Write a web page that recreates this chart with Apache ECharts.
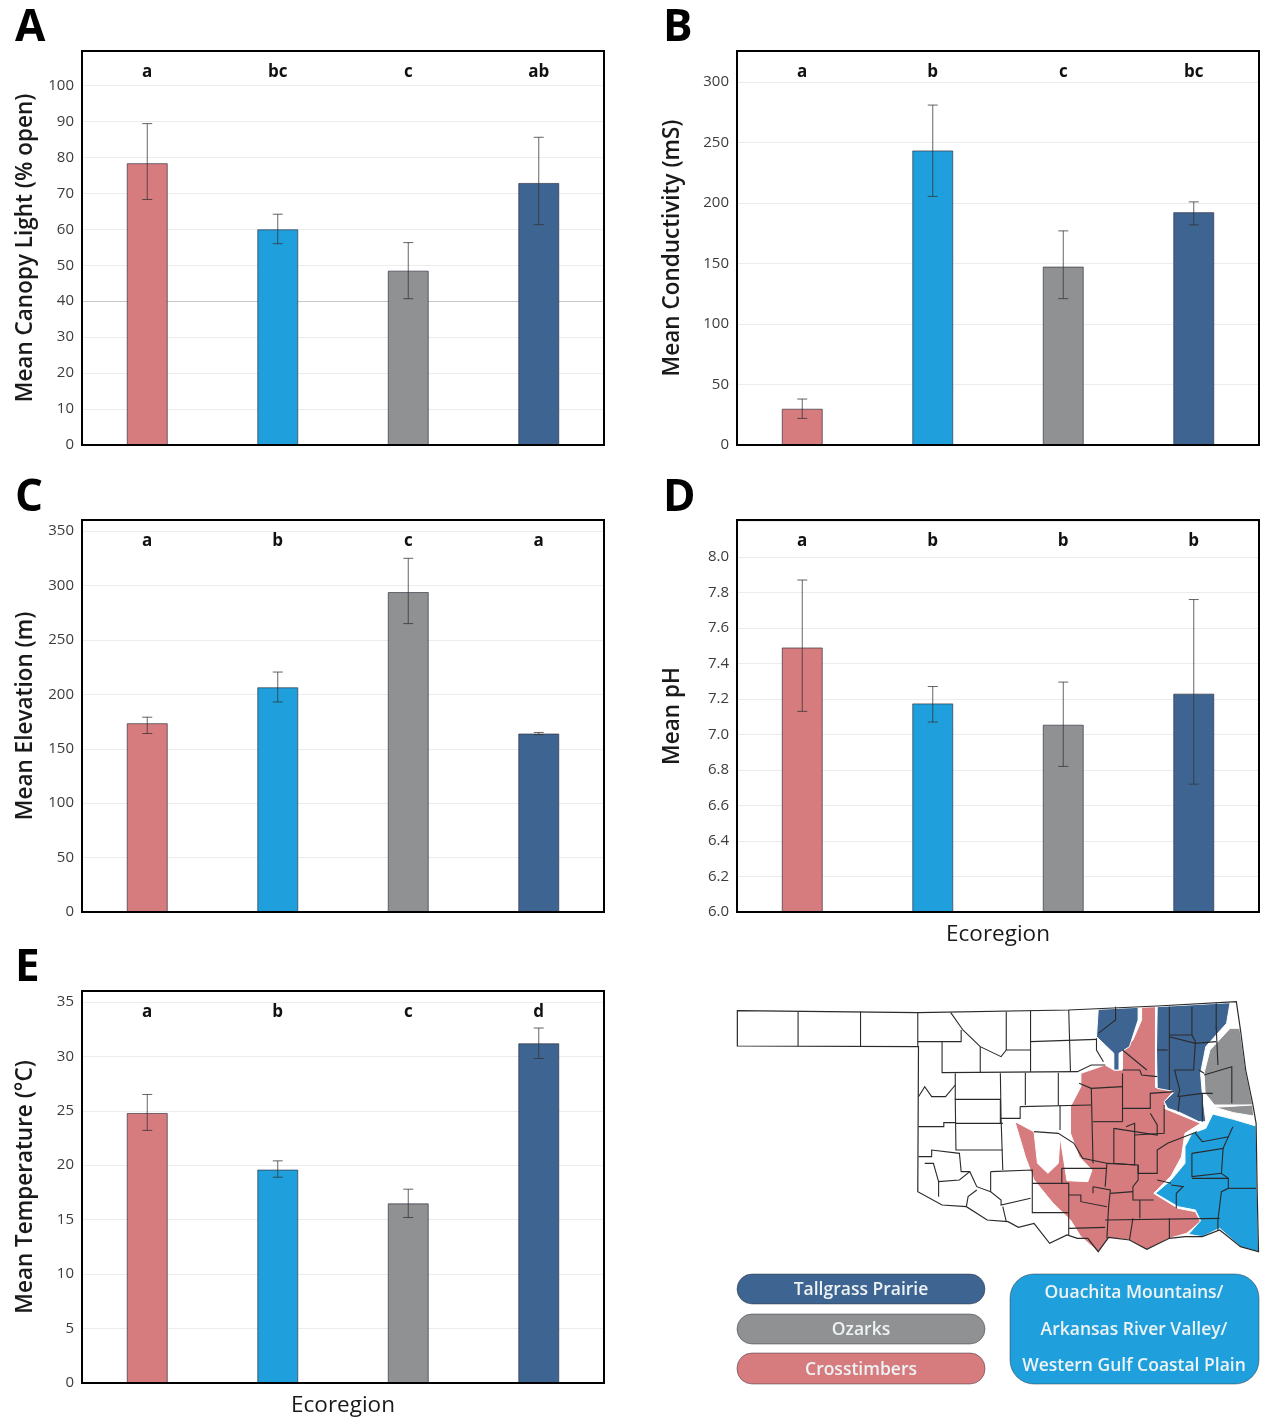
<!DOCTYPE html>
<html><head><meta charset="utf-8">
<style>html,body{margin:0;padding:0;background:#fff}#c{width:1262px;height:1421px}</style>
<script src="https://cdn.jsdelivr.net/npm/echarts@6/dist/echarts.min.js"></script>
</head><body><div id="c"></div>
<script>
const ecoregions = ['Crosstimbers','Ouachita Mountains/Arkansas River Valley/Western Gulf Coastal Plain','Ozarks','Tallgrass Prairie'];
const barColors = ['#d67b7e','#1fa0dc','#909192','#3e6592'];

const canopyMeans = [78.4, 60, 48.5, 72.9];
const canopyLow = [68.3, 56, 40.7, 61.3];
const canopyHigh = [89.4, 64.2, 56.3, 85.6];
const canopySig = ['a','bc','c','ab'];

const condMeans = [30, 243.5, 147.5, 192.5];
const condLow = [22, 205.5, 121, 182];
const condHigh = [38, 281, 177, 201];
const condSig = ['a','b','c','bc'];

const elevMeans = [173.5, 206.5, 294, 164];
const elevLow = [164, 193, 265, 163];
const elevHigh = [179, 220.5, 325, 165];
const elevSig = ['a','b','c','a'];

const phMeans = [7.49, 7.175, 7.055, 7.23];
const phLow = [7.13, 7.07, 6.82, 6.72];
const phHigh = [7.87, 7.27, 7.295, 7.76];
const phSig = ['a','b','b','b'];

const tempMeans = [24.8, 19.6, 16.5, 31.2];
const tempLow = [23.2, 18.9, 15.2, 29.8];
const tempHigh = [26.5, 20.4, 17.8, 32.6];
const tempSig = ['a','b','c','d'];

/* Map geometry, in the units of the hidden map axes */
const stateOutline = [[50,62],[570,68],[1005,60],[1260,48],[1488,35],[1500,120],[1515,240],[1535,340],[1545,400],[1548,600],[1552,785],[1500,770],[1470,745],[1440,720],[1390,740],[1340,740],[1295,745],[1230,778],[1180,750],[1120,742],[1090,785],[1060,745],[1030,745],[1000,735],[950,760],[905,700],[860,712],[830,695],[770,690],[710,650],[640,645],[570,605],[572,170],[50,168]];
const tallgrassNW = [[1090,58],[1205,52],[1205,90],[1180,170],[1150,190],[1150,240],[1135,240],[1135,190],[1085,140]];
const tallgrassNE = [[1260,50],[1470,38],[1460,100],[1400,170],[1385,250],[1390,310],[1400,395],[1380,395],[1320,365],[1290,355],[1280,335],[1310,305],[1260,295],[1258,180]];
const ozarksMain = [[1470,115],[1498,115],[1515,240],[1535,345],[1425,345],[1398,310],[1395,250],[1412,180]];
const ozarksStrip = [[1425,352],[1535,345],[1538,378],[1480,368]];
const ouachita = [[1420,372],[1480,388],[1545,408],[1548,600],[1552,785],[1500,770],[1440,715],[1390,740],[1350,733],[1385,692],[1370,660],[1320,650],[1255,610],[1300,570],[1340,520],[1340,470],[1360,430],[1400,415]];
const crosstimbers = [[1215,52],[1255,50],[1255,292],[1310,300],[1285,330],[1280,355],[1320,372],[1385,400],[1340,430],[1330,500],[1300,558],[1250,610],[1320,655],[1370,665],[1385,695],[1345,730],[1295,745],[1230,780],[1180,750],[1120,745],[1090,785],[1040,740],[1010,690],[960,640],[905,570],[880,500],[850,395],[905,425],[915,520],[945,550],[975,520],[980,440],[1000,572],[1060,575],[1072,540],[1035,500],[1010,430],[1010,350],[1040,290],[1040,250],[1110,225],[1135,240],[1160,240],[1160,180],[1190,150],[1215,90]];
const mapRegions = [
  {points: crosstimbers, color: '#d67b7e'},
  {points: tallgrassNW, color: '#3e6592'},
  {points: tallgrassNE, color: '#3e6592'},
  {points: ozarksMain, color: '#909192'},
  {points: ozarksStrip, color: '#909192'},
  {points: ouachita, color: '#1fa0dc'}
];
const countyLines = [
[[225,65],[225,168]],[[405,65],[405,170]],[[570,68],[570,170]],
[[665,68],[700,120],[750,170],[810,200],[825,180]],[[570,155],[695,155],[695,120]],
[[825,65],[825,180],[895,180]],[[895,62],[895,245]],[[1005,60],[1010,245]],[[895,155],[1085,148]],
[[640,155],[640,248],[1030,245],[1070,225],[1110,225]],[[750,170],[750,248]],
[[678,250],[678,328],[808,328],[808,400]],[[808,250],[810,385]],[[880,248],[880,345]],[[975,248],[975,345]],[[865,350],[1070,345]],[[865,350],[865,385],[810,385],[815,540]],
[[572,320],[590,290],[610,320],[650,320],[678,285]],
[[678,328],[680,480],[815,480]],[[680,400],[815,400]],[[572,410],[645,410],[645,398],[680,398]],
[[572,500],[610,500],[610,480],[690,490],[695,545],[720,545]],[[590,520],[615,520],[630,575],[690,570],[720,545],[740,590],[780,605]],[[630,575],[630,620]],
[[780,545],[900,540],[900,670]],[[780,545],[780,605],[810,630],[810,645],[895,625]],[[710,650],[715,620],[740,600]],[[815,650],[825,695]],
[[900,580],[1005,580],[1005,735]],[[900,668],[1005,668]],[[1005,715],[1110,712]],[[1005,615],[1040,615],[1040,635],[1115,650]],[[1075,590],[1125,600],[1120,650],[1115,745]],[[985,535],[1115,535]],[[985,535],[985,580]],[[1075,590],[1075,610]],
[[905,425],[975,430],[1020,460],[1045,505],[1115,520]],[[980,420],[980,345]],
[[1035,280],[1070,295],[1160,290]],[[1070,295],[1075,520]],[[1160,250],[1160,395]],[[1075,395],[1160,395]],[[1160,240],[1210,240],[1215,255],[1260,260]],[[1160,180],[1230,240]],[[1085,145],[1085,180],[1105,215]],
[[1160,355],[1240,355],[1240,310],[1310,305]],[[1240,370],[1260,405],[1260,435],[1135,415]],
[[1135,415],[1135,520],[1195,525],[1195,400],[1170,410]],[[1195,435],[1280,430],[1280,345]],[[1205,525],[1205,550],[1260,550],[1260,480],[1290,460],[1375,425]],[[1115,520],[1205,525],[1205,570],[1190,590],[1190,630],[1250,630]],[[1115,520],[1110,590]],[[1125,610],[1190,605]],[[1210,630],[1210,685]],[[1110,690],[1440,685]],[[1190,685],[1180,750]],[[1295,685],[1295,745]],
[[1370,430],[1390,455],[1465,440],[1478,410]],[[1360,490],[1450,475],[1445,550],[1360,560],[1360,490]],[[1465,440],[1450,475]],[[1300,585],[1335,590],[1315,610],[1315,655]],[[1445,550],[1465,565],[1465,595],[1445,605],[1435,690],[1435,720]],[[1465,595],[1545,595]],[[1360,565],[1465,565]],[[1260,570],[1300,580]],
[[1295,50],[1295,300]],[[1260,180],[1290,180]],[[1295,135],[1360,135],[1360,50]],[[1430,40],[1430,115]],[[1295,140],[1370,160],[1430,155]],[[1360,135],[1370,155],[1365,240],[1310,240],[1325,300],[1320,320],[1390,310],[1420,310]],[[1395,255],[1475,230],[1475,340]],[[1430,110],[1435,225]],[[1380,240],[1395,250]],[[1325,320],[1320,365]],[[1390,310],[1390,395]],
[[1140,50],[1140,90],[1090,130]]
];

const FONT = '"Open Sans"';
const panels = [
 {left:82,top:51,height:394,means:canopyMeans,low:canopyLow,high:canopyHigh,sig:canopySig,name:'Mean Canopy Light (% open)',min:0,max:109.6,interval:10,gap:45,digits:0,ref:40},
 {left:737,top:51,height:394,means:condMeans,low:condLow,high:condHigh,sig:condSig,name:'Mean Conductivity (mS)',min:0,max:325.7,interval:50,gap:53,digits:0},
 {left:82,top:520,height:392,means:elevMeans,low:elevLow,high:elevHigh,sig:elevSig,name:'Mean Elevation (m)',min:0,max:360.2,interval:50,gap:45,digits:0},
 {left:737,top:520,height:392,means:phMeans,low:phLow,high:phHigh,sig:phSig,name:'Mean pH',min:6,max:8.208,interval:0.2,gap:53,digits:1,xName:'Ecoregion',hideAbove:8.1},
 {left:82,top:991,height:392,means:tempMeans,low:tempLow,high:tempHigh,sig:tempSig,name:'Mean Temperature (\u00b0C)',min:0,max:36,interval:5,gap:45,digits:0,xName:'Ecoregion'}
];

const grid=[], xAxis=[], yAxis=[], series=[];
panels.forEach((p,i)=>{
  grid.push({left:p.left,top:p.top,width:522,height:p.height,show:false,containLabel:false,outerBoundsMode:'none',z:5});
  xAxis.push({type:'category',gridIndex:i,data:ecoregions,position:'bottom',
    axisLine:{show:false},axisTick:{show:false},axisLabel:{show:false},
    name:p.xName||'',nameLocation:'middle',nameGap:11,nameTextStyle:{fontFamily:FONT,fontSize:22.5,color:'#1a1a1a'}});
  xAxis.push({type:'category',gridIndex:i,data:p.sig.map((s,k)=>({value:k+':'+s})),position:'top',
    axisLine:{show:false},axisTick:{show:false},
    axisLabel:{inside:true,interval:0,margin:13,fontFamily:FONT,fontWeight:700,fontSize:17,color:'#111',formatter:v=>v.split(':')[1]}});
  yAxis.push({type:'value',gridIndex:i,min:p.min,max:p.max,interval:p.interval,
    name:p.name,nameLocation:'middle',nameGap:p.gap,nameTextStyle:{fontFamily:FONT,fontWeight:600,fontSize:22.5,color:'#1a1a1a'},
    axisLine:{show:false},axisTick:{show:false},
    axisLabel:{fontFamily:FONT,fontSize:15,color:'#3c3c3c',margin:8,padding:[2,0,0,0],showMaxLabel:false,hideOverlap:false,
      formatter:v=>(p.hideAbove!==undefined&&v>p.hideAbove)?'':(+v).toFixed(p.digits)},
    splitLine:{show:true,lineStyle:{color:'#ececec',width:1}}});
  const xi=i*2;
  series.push({type:'bar',xAxisIndex:xi,yAxisIndex:i,barWidth:41,z:3,
    data:p.means.map((v,k)=>({value:v,itemStyle:{color:barColors[k]}})),
    itemStyle:{borderColor:'rgba(45,45,60,0.65)',borderWidth:1},
    markLine:p.ref!==undefined?{silent:true,symbol:'none',label:{show:false},z:2,
       lineStyle:{color:'#c6c6c6',width:1,type:'solid'},data:[{yAxis:p.ref}]}:undefined});
  series.push({type:'custom',xAxisIndex:xi,yAxisIndex:i,z:4,
    data:p.low.map((l,k)=>[k,l,p.high[k]]),encode:{x:0,y:[1,2]},
    renderItem:(params,api)=>{
      const a=api.coord([api.value(0),api.value(1)]), b=api.coord([api.value(0),api.value(2)]);
      const st={stroke:'rgba(50,50,50,0.75)',lineWidth:1,fill:null};
      const hw=5;
      return {type:'group',children:[
        {type:'line',shape:{x1:a[0],y1:a[1],x2:b[0],y2:b[1]},style:st},
        {type:'line',shape:{x1:a[0]-hw,y1:a[1],x2:a[0]+hw,y2:a[1]},style:st},
        {type:'line',shape:{x1:b[0]-hw,y1:b[1],x2:b[0]+hw,y2:b[1]},style:st}]};
    }});
});

/* Hidden map coordinate system */
const mi=panels.length;
grid.push({left:720,top:990,width:542,height:270,show:false,outerBoundsMode:'none'});
xAxis.push({type:'value',gridIndex:mi,min:0,max:1562,show:false});
yAxis.push({type:'value',gridIndex:mi,min:0,max:810,inverse:true,show:false});
const mx=mi*2;
const polyItem=(params,api,pts,style)=>({type:'polygon',shape:{points:pts.map(p=>api.coord(p))},style});
series.push({type:'custom',xAxisIndex:mx,yAxisIndex:mi,z:1,clip:false,silent:true,
  data:mapRegions.map((r,i)=>[i]),
  renderItem:(params,api)=>{const r=mapRegions[params.dataIndex];
    return polyItem(params,api,r.points,{fill:r.color,stroke:'#fff',lineWidth:1});}});
series.push({type:'custom',xAxisIndex:mx,yAxisIndex:mi,z:2,clip:false,silent:true,
  data:countyLines.map((r,i)=>[i]),
  renderItem:(params,api)=>({type:'polyline',shape:{points:countyLines[params.dataIndex].map(p=>api.coord(p))},
    style:{stroke:'#2a2a2a',lineWidth:1.1,fill:null}})});
series.push({type:'custom',xAxisIndex:mx,yAxisIndex:mi,z:3,clip:false,silent:true,
  data:[[0]],
  renderItem:(params,api)=>polyItem(params,api,stateOutline,{fill:null,stroke:'#2a2a2a',lineWidth:1.2})});

const frames = panels.map(p=>({type:'rect',z:10,shape:{x:p.left,y:p.top,width:522,height:p.height},
  style:{fill:null,stroke:'#000',lineWidth:2}}));
const letter=(t,x,y)=>({type:'text',z:10,x,y,style:{text:t,fontFamily:FONT,fontWeight:700,fontSize:44,fill:'#000',textVerticalAlign:'top'}});
const letters=[letter('A',15,6),letter('B',663,6),letter('C',15,476),letter('D',663,476),letter('E',15,946)];
const pill=(x,y,w,h,r,color)=>({type:'rect',z:10,shape:{x,y,width:w,height:h,r},style:{fill:color,stroke:'rgba(40,40,50,0.45)',lineWidth:1}});
const ptext=(t,cx,cy)=>({type:'text',z:11,x:cx,y:cy,style:{text:t,fontFamily:FONT,fontWeight:600,fontSize:17.5,fill:'#eef3f5',textAlign:'center',textVerticalAlign:'middle'}});
const legend=[
 pill(737,1274,248,30,15,barColors[3]),ptext('Tallgrass Prairie',861,1290),
 pill(737,1314,248,30,15,barColors[2]),ptext('Ozarks',861,1330),
 pill(737,1353,248,31,15,barColors[0]),ptext('Crosstimbers',861,1370),
 pill(1010,1274,249,110,24,barColors[1]),
 ptext('Ouachita Mountains/',1134,1293),ptext('Arkansas River Valley/',1134,1330),ptext('Western Gulf Coastal Plain',1134,1366)
];

const chart=echarts.init(document.getElementById('c'),null,{renderer:'canvas'});
chart.setOption({animation:false,backgroundColor:'#fff',tooltip:{show:false},legend:{show:false},
  grid,xAxis,yAxis,series,graphic:{elements:[...frames,...letters,...legend]}});
</script></body></html>
